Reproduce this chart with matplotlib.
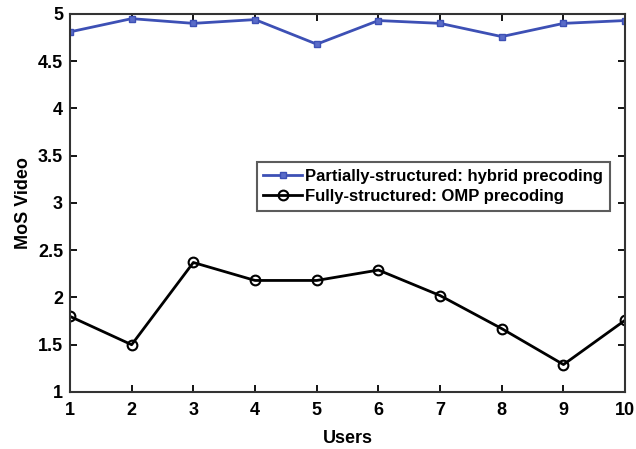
import matplotlib.pyplot as plt
import numpy as np

plt.rcParams['font.family'] = ['Liberation Sans', 'DejaVu Sans']
plt.rcParams['font.weight'] = 'bold'

users = np.arange(1, 11)
hybrid = [4.81, 4.95, 4.90, 4.94, 4.68, 4.93, 4.90, 4.76, 4.90, 4.93]
omp = [1.80, 1.50, 2.37, 2.18, 2.18, 2.29, 2.02, 1.67, 1.29, 1.76]

fig = plt.figure(figsize=(6.36, 4.49), dpi=100)
ax = fig.add_axes([0.11, 0.127, 0.873, 0.842])

ax.plot(users, hybrid, color='#3d50b5', linewidth=2, marker='s', markersize=5,
        markerfacecolor='#5a6cc8', markeredgecolor='#3d50b5',
        label='Partially-structured: hybrid precoding')
ax.plot(users, omp, color='black', linewidth=2, marker='o', markersize=7,
        markerfacecolor='none', markeredgewidth=1.5,
        label='Fully-structured: OMP precoding')

ax.set_xlim(1, 10)
ax.set_ylim(1, 5)
ax.set_xticks(users)
ax.set_yticks(np.arange(1, 5.01, 0.5))
ax.set_yticklabels(['1', '1.5', '2', '2.5', '3', '3.5', '4', '4.5', '5'])
ax.tick_params(direction='in', top=True, right=True, labelsize=13, width=1.3, length=5)
ax.tick_params(axis='x', pad=7)
ax.tick_params(axis='y', pad=5)
for s in ax.spines.values():
    s.set_linewidth(1.5)
    s.set_color('#333333')

ax.set_xlabel('Users', fontsize=13, fontweight='bold', labelpad=8)
ax.set_ylabel('MoS Video', fontsize=13, fontweight='bold', labelpad=4)

leg = ax.legend(loc='upper right', bbox_to_anchor=(0.972, 0.607), fontsize=12,
                fancybox=False, handlelength=2.3, handletextpad=0.2,
                borderpad=0.4, labelspacing=0.3, borderaxespad=0)
leg.get_frame().set_edgecolor('#333333')
leg.get_frame().set_linewidth(1.5)

fig.savefig('out.png', dpi=100)
